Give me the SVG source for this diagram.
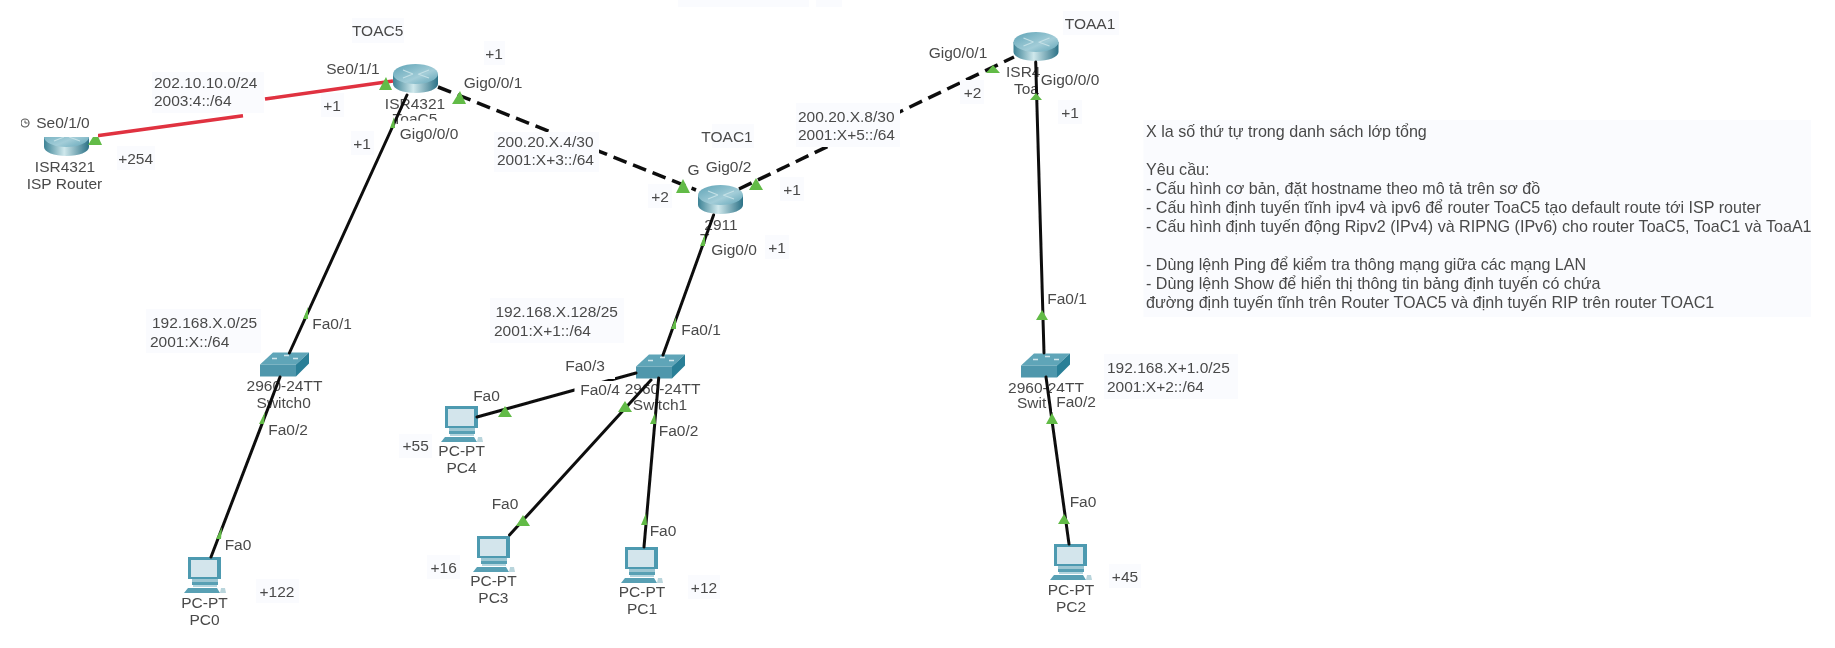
<svg xmlns="http://www.w3.org/2000/svg" width="1835" height="648" viewBox="0 0 1835 648">
<style>
text{font-family:"Liberation Sans",Arial,sans-serif;font-size:15.5px;fill:#4a4a4a}
.m{text-anchor:middle}
.tint{fill:#fafbfe}
.w{fill:#fff}
.lan{fill:none;stroke:#111;stroke-width:3;stroke-linecap:round}
.wan{fill:none;stroke:#111;stroke-width:3.5;stroke-dasharray:14 7}
.ser{fill:none;stroke:#e0303f;stroke-width:3.5}
.led{fill:#62bb46}
#notes text{font-size:16.1px}
</style>
<defs>
<filter id="soft" x="0" y="0" width="100%" height="100%"><feGaussianBlur stdDeviation="0.45"/></filter>
<linearGradient id="rs" x1="0" x2="1" y1="0" y2="0"><stop offset="0" stop-color="#3c8295"/><stop offset=".45" stop-color="#cfe8ec"/><stop offset="1" stop-color="#2c7186"/></linearGradient>
<linearGradient id="rt" x1="0" x2="1" y1="0" y2="1"><stop offset="0" stop-color="#5ea3b6"/><stop offset=".6" stop-color="#a3cdd8"/><stop offset="1" stop-color="#5ea3b6"/></linearGradient>
<g id="router">
<path d="M0 10V20C0 25 10 29 22.500 29S45 25 45 20V10Z" fill="url(#rs)"/>
<ellipse cx="22.500" cy="10" rx="22.500" ry="10" fill="url(#rt)"/>
<path d="M10 6L20 10M25 10L36 14M36 6L26 10M20 10L10 14" stroke="#c3e0e6" stroke-width="1.200" fill="none"/>
</g>
<g id="switch">
<path d="M0 12L13 0H49L36 12Z" fill="#5fa5b8"/>
<path d="M0 12H36V24H0Z" fill="#4f97ac"/>
<path d="M36 12L49 0V11L36 24Z" fill="#2b7f97"/>
<path d="M12 6h5M24 3h5M33 6h5" stroke="#cfe6eb" stroke-width="1.500"/>
</g>
<g id="pc">
<rect x="4" y="0" width="33" height="22" fill="#4d9ab0"/>
<rect x="7" y="3" width="26" height="17" fill="#d3e5ec"/>
<path d="M8 22H34V25H8Z" fill="#9cc6d2"/>
<path d="M8 25H34V28H8Z" fill="#58a0b4"/>
<path d="M9 28H33V30H9Z" fill="#b4d6df"/>
<path d="M4 31H33L36 36H0Z" fill="#58a0b4"/>
<path d="M37 31h4l1 5h-6Z" fill="#b9d5dc"/>
</g>
</defs>
<rect width="1835" height="648" fill="#fff"/>
<g filter="url(#soft)">
<rect class="tint" x="678" y="0" width="131" height="7"/>
<rect class="tint" x="816" y="0" width="26" height="7"/>

<g id="isp-router"><use href="#router" x="44" y="127"/><text class="m" x="65" y="172">ISR4321</text><text class="m" x="64.500" y="189">ISP Router</text></g>
<g id="toac5"><use href="#router" x="393" y="64"/><text class="m" x="415" y="109">ISR4321</text><text class="m" x="415" y="124">ToaC5</text></g>
<g id="toac1"><use href="#router" x="698" y="185"/><text class="m" x="721" y="230">2911</text><text x="700" y="244">T</text></g>
<g id="toaa1"><use href="#router" x="1013.500" y="32"/><text x="1006" y="77">ISR4</text><text x="1014" y="94">Toa</text></g>
<g id="switch0"><use href="#switch" x="260" y="352.500"/><text class="m" x="284.500" y="391">2960-24TT</text><text class="m" x="283.700" y="408">Switch0</text></g>
<g id="switch1"><use href="#switch" x="636" y="354.500"/><text class="m" x="662.600" y="393.500">2960-24TT</text><text class="m" x="660" y="409.500">Switch1</text></g>
<g id="switch2"><use href="#switch" x="1021" y="353.500"/><text class="m" x="1046" y="392.500">2960-24TT</text><text x="1017" y="407.500">Swit</text></g>
<g id="pc0"><use href="#pc" x="184" y="557"/><text class="m" x="204.500" y="607.500">PC-PT</text><text class="m" x="204.500" y="624.500">PC0</text></g>
<g id="pc1"><use href="#pc" x="621" y="547"/><text class="m" x="642" y="596.500">PC-PT</text><text class="m" x="642" y="613.500">PC1</text></g>
<g id="pc2"><use href="#pc" x="1050" y="544"/><text class="m" x="1071" y="594.500">PC-PT</text><text class="m" x="1071" y="611.500">PC2</text></g>
<g id="pc3"><use href="#pc" x="473" y="536"/><text class="m" x="493.400" y="585.500">PC-PT</text><text class="m" x="493.400" y="602.500">PC3</text></g>
<g id="pc4"><use href="#pc" x="441" y="406"/><text class="m" x="461.600" y="455.500">PC-PT</text><text class="m" x="461.600" y="472.500">PC4</text></g>

<g id="connectors">
<path class="ser" d="M97 135.700L243 115.700M265 99L393 81"/>
<path class="wan" d="M438 87L696 190"/>
<path class="wan" d="M739 189L1014 57"/>
<path class="lan" d="M407 95L289.400 353"/>
<path class="lan" d="M280 377L211 557"/>
<path class="lan" d="M713.600 215L663 355"/>
<path class="lan" d="M1035.700 62L1044 353"/>
<path class="lan" d="M1046 377L1069 544"/>
<path class="lan" d="M477 417L636 373"/>
<path class="lan" d="M651 380L509.500 535"/>
<path class="lan" d="M658.700 378L644 547"/>
<g class="led">
<path d="M88 145L102 145L96 132Z"/><path d="M379 90L392 90L386 77Z"/><path d="M452 104L466 104L460 91Z"/>
<path d="M390 128L395 128L394 117Z"/><path d="M303 319L308 319L308 307Z"/><path d="M259 424L264 424L265 412Z"/>
<path d="M216 539L221 539L222 527Z"/><path d="M676 193L690 193L683 179Z"/><path d="M749 190L763 190L756 178Z"/>
<path d="M700 246L705 246L705 234Z"/><path d="M671 329L676 329L676 317Z"/><path d="M986 73L1000 73L993 65Z"/>
<path d="M1030 100L1042 100L1036 93Z"/><path d="M1036 320L1048 320L1042 310Z"/><path d="M498 417L512 417L505 406Z"/>
<path d="M618 412L632 412L625 401Z"/><path d="M516 526L530 526L523 515Z"/><path d="M650 424L656 424L655 413Z"/>
<path d="M641 525L647 525L646 513Z"/><path d="M1046 424L1058 424L1052 413Z"/><path d="M1058 524L1070 524L1064 514Z"/>
</g>
</g>

<g id="labels">
<rect class="w" x="38" y="110" width="60" height="27"/>
<circle cx="25" cy="123" r="4" fill="none" stroke="#555" stroke-width="1.200"/><path d="M25 120.500V123H27.500" fill="none" stroke="#555"/>
<text class="m" x="63" y="127.500">Se0/1/0</text>
<rect class="tint" x="152" y="72" width="112" height="41"/>
<text x="154" y="87.500">202.10.10.0/24</text><text x="154" y="105.500">2003:4::/64</text>
<rect class="tint" x="117" y="146" width="38" height="24"/><text class="m" x="135.600" y="163.500">+254</text>
<rect class="tint" x="352" y="18" width="52" height="25"/><text class="m" x="377.600" y="35.500">TOAC5</text>
<text class="m" x="353" y="73.500">Se0/1/1</text>
<rect class="tint" x="484" y="41" width="21" height="24"/><text class="m" x="494" y="58.500">+1</text>
<text class="m" x="493" y="87.500">Gig0/0/1</text>
<rect class="tint" x="321" y="93" width="23" height="24"/><text class="m" x="332" y="110.500">+1</text>
<rect class="w" x="399" y="120.700" width="62" height="24"/><text class="m" x="429" y="138.500">Gig0/0/0</text>
<rect class="tint" x="351" y="131" width="23" height="24"/><text class="m" x="362" y="148.500">+1</text>
<rect class="tint" x="494" y="132" width="105" height="40"/>
<text x="497" y="146.500">200.20.X.4/30</text><text x="497" y="164.500">2001:X+3::/64</text>
<text class="m" x="332" y="328.500">Fa0/1</text>
<rect class="tint" x="146" y="309" width="115" height="44"/>
<text x="152" y="327.500">192.168.X.0/25</text><text x="150" y="347">2001:X::/64</text>
<text class="m" x="288" y="434.500">Fa0/2</text>
<text class="m" x="238" y="549.500">Fa0</text>
<rect class="tint" x="256" y="579" width="43" height="24"/><text class="m" x="277" y="596.500">+122</text>
<rect class="tint" x="490" y="298" width="134" height="45"/>
<text x="495.500" y="316.500">192.168.X.128/25</text><text x="494" y="335.500">2001:X+1::/64</text>
<rect class="w" x="565" y="358" width="50" height="21"/><text class="m" x="585" y="370.500">Fa0/3</text>
<rect class="w" x="574.500" y="381" width="46.500" height="15"/><text class="m" x="600" y="394.500">Fa0/4</text>
<text class="m" x="486.500" y="400.500">Fa0</text>
<rect class="tint" x="399" y="434" width="33" height="24"/><text class="m" x="415.700" y="451">+55</text>
<text class="m" x="505" y="508.500">Fa0</text>
<rect class="tint" x="427" y="555" width="33" height="24"/><text class="m" x="443.700" y="572.500">+16</text>
<text class="m" x="678.600" y="435.500">Fa0/2</text>
<text class="m" x="663" y="535.500">Fa0</text>
<rect class="tint" x="688" y="575" width="32" height="24"/><text class="m" x="704" y="592.500">+12</text>
<rect class="tint" x="712" y="124" width="42" height="24"/><text class="m" x="727" y="141.500">TOAC1</text>
<text class="m" x="693.600" y="174.500">G</text>
<rect class="w" x="703.600" y="152" width="50" height="28"/><text class="m" x="728.600" y="171.500">Gig0/2</text>
<rect class="tint" x="648" y="184" width="24" height="24"/><text class="m" x="660" y="201.500">+2</text>
<rect class="tint" x="780" y="177" width="24" height="24"/><text class="m" x="792" y="194.500">+1</text>
<rect class="w" x="709" y="235" width="50" height="23"/><text class="m" x="734" y="254.500">Gig0/0</text>
<rect class="tint" x="765" y="235" width="24" height="24"/><text class="m" x="777" y="252.500">+1</text>
<text class="m" x="701" y="334.500">Fa0/1</text>
<rect class="tint" x="796" y="103" width="104" height="44"/>
<text x="798" y="121.500">200.20.X.8/30</text><text x="798" y="139.500">2001:X+5::/64</text>
<text class="m" x="958" y="57.500">Gig0/0/1</text>
<rect class="tint" x="960" y="80" width="24" height="24"/><text class="m" x="972.500" y="97.500">+2</text>
<rect class="tint" x="1063" y="11" width="56" height="24"/><text class="m" x="1090" y="28.500">TOAA1</text>
<rect class="w" x="1040" y="66" width="61" height="26"/><text class="m" x="1070" y="84.500">Gig0/0/0</text>
<rect class="tint" x="1058" y="100" width="24" height="24"/><text class="m" x="1070" y="117.500">+1</text>
<text class="m" x="1067" y="303.500">Fa0/1</text>
<rect class="w" x="1052" y="392" width="46" height="20"/><text class="m" x="1076" y="406.500">Fa0/2</text>
<rect class="tint" x="1104" y="354" width="134" height="45"/>
<text x="1107" y="372.500">192.168.X+1.0/25</text><text x="1107" y="391.500">2001:X+2::/64</text>
<text class="m" x="1083" y="506.500">Fa0</text>
<rect class="tint" x="1109" y="564" width="32" height="24"/><text class="m" x="1125" y="581.500">+45</text>
</g>

<g id="notes">
<rect class="tint" x="1143.500" y="120" width="667.500" height="197"/>
<text x="1146" y="137">X la số thứ tự trong danh sách lớp tổng</text>
<text x="1146" y="175">Yêu cầu:</text>
<text x="1146" y="194">- Cấu hình cơ bản, đặt hostname theo mô tả trên sơ đồ</text>
<text x="1146" y="213">- Cấu hình định tuyến tĩnh ipv4 và ipv6 để router ToaC5 tạo default route tới ISP router</text>
<text x="1146" y="232">- Cấu hình định tuyến động Ripv2 (IPv4) và RIPNG (IPv6) cho router ToaC5, ToaC1 và ToaA1</text>
<text x="1146" y="270">- Dùng lệnh Ping để kiểm tra thông mạng giữa các mạng LAN</text>
<text x="1146" y="289">- Dùng lệnh Show để hiển thị thông tin bảng định tuyến có chứa</text>
<text x="1146" y="308">đường định tuyến tĩnh trên Router TOAC5 và định tuyến RIP trên router TOAC1</text>
</g>
</g>
</svg>
